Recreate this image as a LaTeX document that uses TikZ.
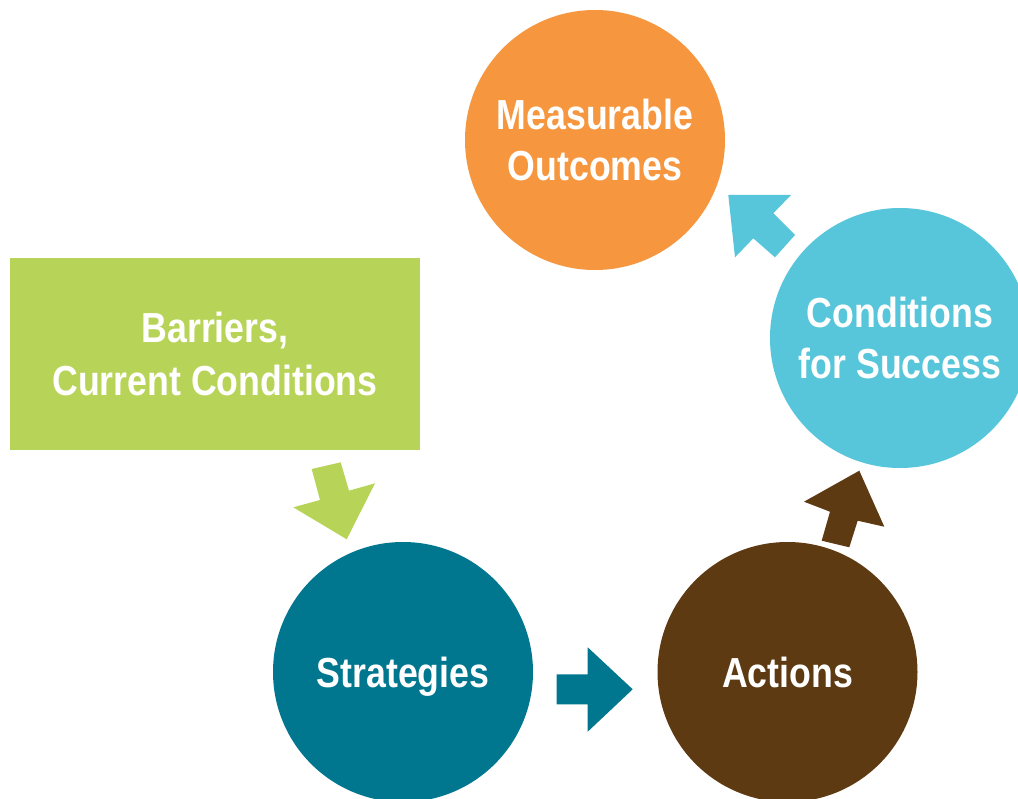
\documentclass[tikz,border=0pt]{standalone}
\usepackage{fontspec}
\setmainfont{Liberation Sans}[FakeStretch=0.85]
\definecolor{cOrange}{HTML}{F6963F}
\definecolor{cGreen}{HTML}{B8D458}
\definecolor{cCyan}{HTML}{57C6DA}
\definecolor{cTeal}{HTML}{00778F}
\definecolor{cBrown}{HTML}{5E3A12}
\tikzset{
  bubble/.style={circle, minimum size=260pt, inner sep=0pt, text=white, align=center,
    text depth=0pt, font=\bfseries\fontsize{42}{51}\selectfont},
  greenbox/.style={rectangle, fill=cGreen, minimum width=410pt, minimum height=192pt,
    inner sep=0pt, text=white, align=center, font=\bfseries\fontsize{42}{53}\selectfont},
  blockarrow/.style={draw=none}
}
\begin{document}
\begin{tikzpicture}[x=1pt,y=-1pt]
\fill[white] (0,0) rectangle (1018,799);
\useasboundingbox (0,0) rectangle (1018,799);
\begin{scope}
\clip (0,0) rectangle (1018,799);
\node[bubble, fill=cOrange] (outcomes) at (595,140) {Measurable\\Outcomes};
\node[bubble, fill=cCyan] (success) at (900,338) {Conditions\\for Success};
\node[bubble, fill=cTeal] (strategies) at (403,672) {Strategies};
\node[bubble, fill=cBrown] (actions) at (787.5,672) {Actions};
\node[greenbox] (barriers) at (215,354) {Barriers,\\Current Conditions};
\end{scope}
% block arrows
\fill[cGreen, blockarrow] (311.7,469) -- (340.7,462.3) -- (349,490.7) -- (375,483.3)
  -- (346.7,539.3) -- (293.3,507.3) -- (320,500) -- cycle;
\fill[cTeal, blockarrow] (556.7,674.3) -- (587.7,674.3) -- (587.7,647.3) -- (632.7,689.3)
  -- (587.7,731.7) -- (587.7,704.3) -- (556.7,704.3) -- cycle;
\fill[cBrown, blockarrow] (859.3,470.7) -- (884.3,526.7) -- (857.7,520.7) -- (849.3,547.3)
  -- (821.7,540.7) -- (830,511.7) -- (804,501.7) -- cycle;
\fill[cCyan, blockarrow] (728.3,195) -- (791,195) -- (773.3,213.3) -- (795,235)
  -- (775,257.3) -- (753.3,238.3) -- (735,257.3) -- cycle;
\end{tikzpicture}
\end{document}
